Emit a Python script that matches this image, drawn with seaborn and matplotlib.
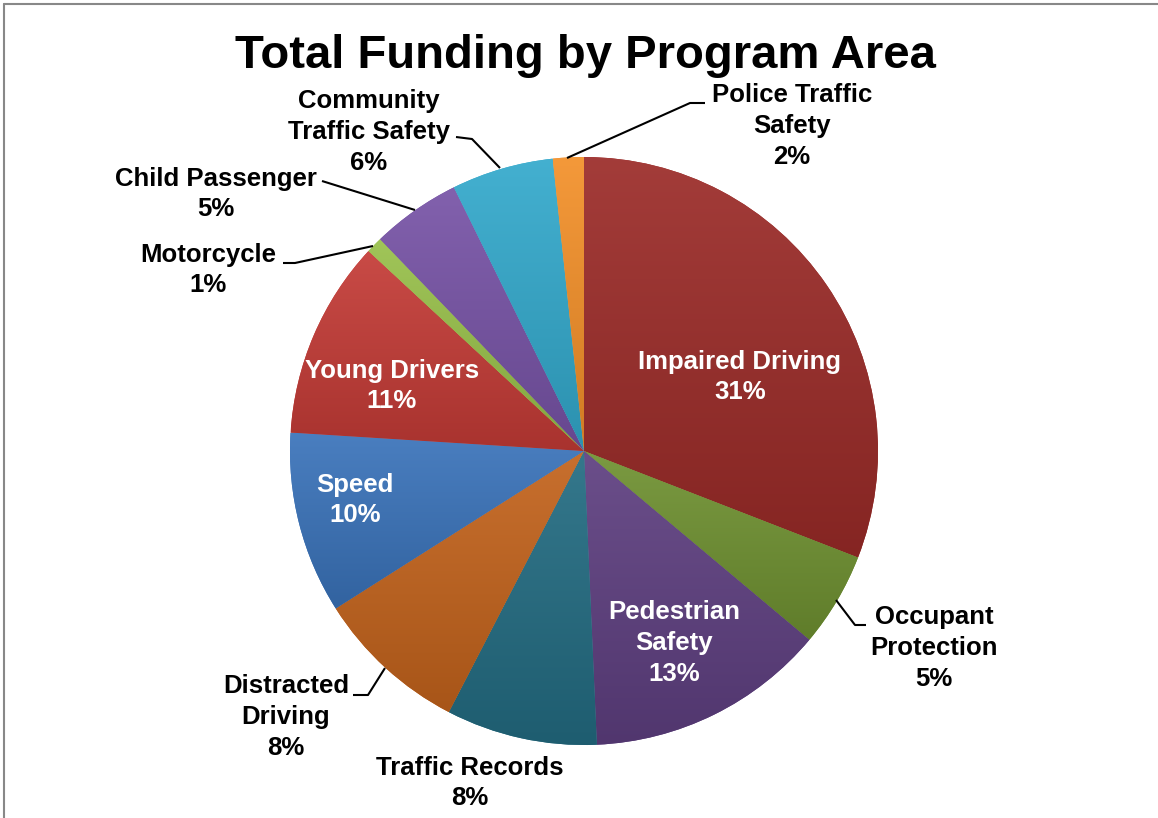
import numpy as np
import matplotlib
matplotlib.use("Agg")
import matplotlib.pyplot as plt
import matplotlib.colors as mcolors
from matplotlib.lines import Line2D
import seaborn as sns

# ---------------- data ----------------
categories = ["Impaired Driving", "Occupant Protection", "Pedestrian Safety",
              "Traffic Records", "Distracted Driving", "Speed", "Young Drivers",
              "Motorcycle", "Child Passenger", "Community Traffic Safety",
              "Police Traffic Safety"]
shares = [30.9, 5.2, 13.2, 8.3, 8.4, 10.0, 10.9, 0.9, 4.9, 5.6, 1.7]
label_text = ["Impaired Driving", "Occupant\nProtection", "Pedestrian\nSafety",
              "Traffic Records", "Distracted\nDriving", "Speed", "Young Drivers",
              "Motorcycle", "Child Passenger", "Community\nTraffic Safety",
              "Police Traffic\nSafety"]
title = "Total Funding by Program Area"

# ---------------- styles / layout ----------------
colors = ["#9B2B28", "#6F9131", "#5E3F80", "#236C82", "#C3631C", "#3A73BA",
          "#C43B36", "#98C04A", "#7753A6", "#33A9CC", "#F39029"]
inside = [True, False, True, False, False, True, True, False, False, False, False]
# label block centres in pixel coordinates (x, y from top)
label_pos = [(740, 377), (934, 648), (674, 643), (470, 783), (286, 717),
             (355, 500), (392, 386), (208, 270), (216, 194), (369, 132),
             (792, 126)]
# leader lines (pixel coordinates, y from top)
leaders = [None,
           [(866, 625), (855, 625), (836, 600)],
           None, None,
           [(353, 695), (368, 695), (385, 668)],
           None, None,
           [(283, 263), (295, 263), (373, 246)],
           [(322, 181), (415, 210)],
           [(456, 137), (472, 139), (500, 168)],
           [(705, 103), (690, 103), (567, 158)]]

W, H = 1158, 818
CX, CY, R = 584, 451, 294

sns.set_theme(style="white")
plt.rcParams["font.family"] = ["Liberation Sans", "DejaVu Sans"]

fig = plt.figure(figsize=(W / 100, H / 100), dpi=100)
ax = fig.add_axes([0, 0, 1, 1])
ax.set_axis_off()

wedges, _ = ax.pie(shares, colors=colors, startangle=90, counterclock=False,
                   radius=R, center=(CX, H - CY),
                   wedgeprops=dict(linewidth=0))


def shade(c, f):
    rgb = np.array(mcolors.to_rgb(c))
    if f >= 0:
        return rgb + (1 - rgb) * f
    return rgb * (1 + f)


# vertical gradient on each slice (light top -> dark bottom)
for w, c in zip(wedges, colors):
    path = w.get_path().transformed(w.get_patch_transform())
    (x0, y0), (x1, y1) = path.get_extents().get_points()
    top = shade(c, 0.08)
    bot = shade(c, -0.14)
    t = np.linspace(0, 1, 256)[:, None]
    grad = (top[None, :] * (1 - t) + bot[None, :] * t)[:, None, :]
    im = ax.imshow(grad, extent=(x0, x1, y0, y1), origin="upper",
                   aspect="auto", interpolation="bilinear", zorder=w.get_zorder())
    im.set_clip_path(w)

ax.set_xlim(0, W)
ax.set_ylim(0, H)
ax.set_aspect("equal")

for name, val, (lx, ly), ins in zip(label_text, shares, label_pos, inside):
    txt = f"{name}\n{round(val):d}%"
    ax.text(lx, H - ly, txt, ha="center", va="center", multialignment="center",
            fontsize=18.5, fontweight="bold", color="white" if ins else "black",
            linespacing=1.36, zorder=10)

for pts in leaders:
    if pts:
        xs = [p[0] for p in pts]
        ys = [H - p[1] for p in pts]
        ax.plot(xs, ys, color="black", lw=1.5, solid_capstyle="butt", zorder=9)

ax.text(585, H - 56, title, ha="center", va="center", fontsize=34,
        fontweight="bold", color="black")

# chart frame (partially visible)
fig.add_artist(Line2D([4 / W, 4 / W], [0, 1 - 4 / H], transform=fig.transFigure,
                      color="#888888", lw=1.5))
fig.add_artist(Line2D([4 / W, 1], [1 - 4 / H, 1 - 4 / H], transform=fig.transFigure,
                      color="#888888", lw=1.5))

fig.savefig("out.png", dpi=100, facecolor="white")
